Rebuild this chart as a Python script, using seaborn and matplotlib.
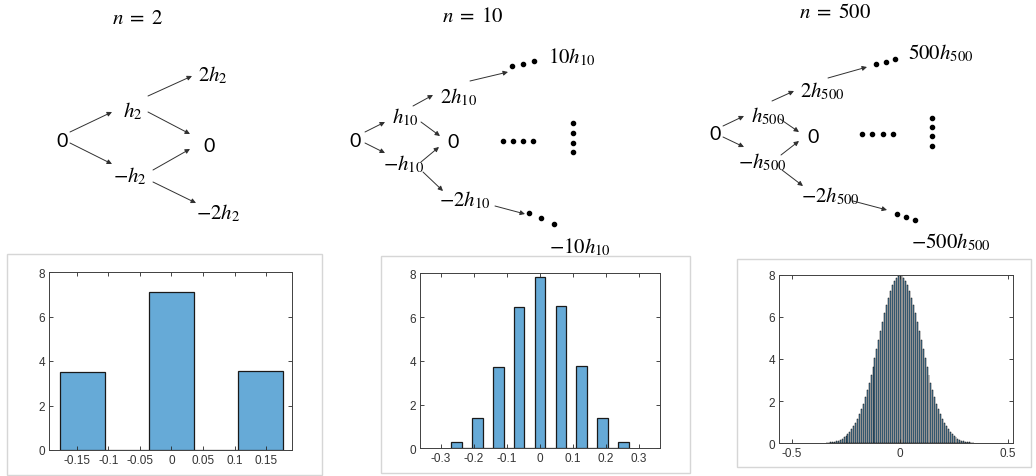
import numpy as np
import pandas as pd
import matplotlib
matplotlib.use("Agg")
import matplotlib.pyplot as plt
import seaborn as sns
from matplotlib.patches import Rectangle

# ---- data ----
# n = 2 : three outcomes -h, 0, h  (h = 0.1414)
n2_centers = [-0.1414, 0.0, 0.1414]
n2_heights = [3.52, 7.08, 3.54]
n2_width = 0.0707

# n = 10 : nine visible outcomes
n10_centers = [-0.253, -0.190, -0.126, -0.063, 0.0, 0.063, 0.126, 0.190, 0.253]
n10_heights = [0.30, 1.37, 3.73, 6.45, 7.82, 6.51, 3.77, 1.38, 0.30]
n10_width = 0.0316

# n = 500 : bars every 0.00894, k = -38 .. 38
n500_step = 0.00894
n500_k = np.arange(-38, 39)
n500_heights = [
    0.02, 0.03, 0.04, 0.06, 0.08, 0.10, 0.13, 0.17, 0.22, 0.28,
    0.35, 0.43, 0.53, 0.66, 0.80, 0.96, 1.15, 1.37, 1.61, 1.88,
    2.18, 2.51, 2.87, 3.25, 3.64, 4.06, 4.49, 4.92, 5.35, 5.77,
    6.18, 6.56, 6.91, 7.22, 7.49, 7.70, 7.85, 7.95, 7.98,
    7.95, 7.85, 7.70, 7.49, 7.22, 6.91, 6.56, 6.18, 5.77, 5.35,
    4.92, 4.49, 4.06, 3.64, 3.25, 2.87, 2.51, 2.18, 1.88, 1.61,
    1.37, 1.15, 0.96, 0.80, 0.66, 0.53, 0.43, 0.35, 0.28, 0.22,
    0.17, 0.13, 0.10, 0.08, 0.06, 0.04, 0.03, 0.02,
]
n500_centers = n500_k * n500_step
n500_width = n500_step / 2

titles = [r"$n\;=\;2$", r"$n\;=\;10$", r"$n\;=\;500$"]

# ---- style ----
plt.rcParams["font.family"] = ["Liberation Sans", "DejaVu Sans"]
plt.rcParams["mathtext.fontset"] = "stix"
plt.rcParams["axes.unicode_minus"] = False

W, H = 1036, 477
fig = plt.figure(figsize=(W / 100, H / 100), dpi=100)

# overlay in pixel coordinates for the tree diagrams
ov = fig.add_axes([0, 0, 1, 1])
ov.set_xlim(0, W)
ov.set_ylim(H, 0)
ov.axis("off")
ov.patch.set_alpha(0)

MATH = 15
ZERO_FONT = ["Lato", "DejaVu Sans"]


def label(x, y, s):
    if s == "0":
        ov.text(x, y, s, ha="center", va="center", fontsize=14, family=ZERO_FONT)
    else:
        ov.text(x, y, s, ha="center", va="center", fontsize=MATH)


def arrow(p, q):
    ov.annotate("", xy=q, xytext=p,
                arrowprops=dict(arrowstyle="-|>", lw=0.7, color="#303030",
                                mutation_scale=7, shrinkA=0, shrinkB=0))


def dots(pts):
    pts = np.array(pts)
    ov.scatter(pts[:, 0], pts[:, 1], s=9, color="black", zorder=3)


# panel 1 tree
ov.text(137, 19, titles[0], ha="center", va="center", fontsize=MATH)
for x, y, s in [(62, 142, "0"), (133, 111, "$h_2$"), (130, 176, "$-h_2$"),
                (213, 75, "$2h_2$"), (209, 147, "0"), (218, 213, "$-2h_2$")]:
    label(x, y, s)
for p, q in [((70, 133), (112, 113)), ((70, 144), (112, 165)),
             ((148, 97), (192, 77)), ((148, 113), (190, 135)),
             ((153, 171), (190, 150)), ((153, 183), (196, 204))]:
    arrow(p, q)

# panel 2 tree
ov.text(473, 17, titles[1], ha="center", va="center", fontsize=MATH)
for x, y, s in [(355, 142, "0"), (405, 117, "$h_{10}$"), (404, 164, "$-h_{10}$"),
                (459, 97, "$2h_{10}$"), (453, 143, "0"), (465, 200, "$-2h_{10}$"),
                (572, 57, "$10h_{10}$"), (580, 247, "$-10h_{10}$")]:
    label(x, y, s)
for p, q in [((365, 133), (385, 123)), ((365, 144), (385, 154)),
             ((413, 107), (433, 96)), ((421, 123), (440, 137)),
             ((421, 163), (439, 148)), ((423, 173), (443, 192)),
             ((470, 82), (508, 73)), ((495, 207), (525, 215))]:
    arrow(p, q)
dots([(503, 142), (513, 142), (523, 142), (533, 142)])
dots([(573, 124), (573, 134), (573, 144), (573, 153)])
dots([(512, 67), (523, 64.5), (534, 62)])
dots([(529, 214), (541, 219), (554, 225)])

# panel 3 tree
ov.text(835, 12, titles[2], ha="center", va="center", fontsize=MATH)
for x, y, s in [(715, 135, "0"), (768, 116, "$h_{500}$"), (762, 162, "$-h_{500}$"),
                (822, 91, "$2h_{500}$"), (813, 138, "0"), (830, 196, "$-2h_{500}$"),
                (941, 53, "$500h_{500}$"), (951, 242, "$-500h_{500}$")]:
    label(x, y, s)
for p, q in [((723, 127), (744, 117)), ((723, 138), (744, 148)),
             ((772, 102), (794, 92)), ((780, 120), (799, 133)),
             ((781, 156), (799, 142)), ((782, 171), (803, 187)),
             ((828, 79), (867, 68)), ((853, 202), (887, 211))]:
    arrow(p, q)
dots([(862, 135), (872, 135), (883, 135), (893, 135)])
dots([(932, 119), (932, 128), (932, 137), (932, 147)])
dots([(876, 65), (886, 62.5), (895, 60)])
dots([(897, 215), (906, 218), (915, 221)])

# screenshot frames around the histograms
for x0, y0, x1, y1 in [(7, 255, 322, 476), (381, 257, 690, 474), (737, 260, 1031, 468)]:
    ov.add_patch(Rectangle((x0, y0), x1 - x0, y1 - y0, fill=False,
                           edgecolor="#d6d6d6", lw=1))


# ---- histograms ----
def hist_panel(rect, centers, heights, width, xlim, xticks, xticklabels, lw, ec="#1a1a1a"):
    ax = fig.add_axes(rect)
    centers = np.asarray(centers, dtype=float)
    edges = np.sort(np.concatenate([centers - width / 2, centers + width / 2]))
    df = pd.DataFrame({"value": centers, "height": list(heights)})
    sns.histplot(data=df, x="value", weights="height", bins=list(edges), ax=ax,
                 color="#66AAD7", alpha=1, edgecolor=ec, linewidth=lw)
    ax.set_xlim(*xlim)
    ax.set_ylim(0, 8)
    ax.set_xticks(xticks)
    ax.set_xticklabels(xticklabels)
    ax.set_yticks([0, 2, 4, 6, 8])
    ax.set_xlabel("")
    ax.set_ylabel("")
    ax.tick_params(direction="in", top=True, right=True, length=3, width=0.6,
                   color="#262626", labelcolor="#333333", labelsize=8.5, pad=3)
    for sp in ax.spines.values():
        sp.set_color("#404040")
        sp.set_linewidth(0.7)
    return ax


hist_panel([49 / W, 1 - 451 / H, 243 / W, 178 / H], n2_centers, n2_heights, n2_width,
           (-0.194, 0.191), [-0.15, -0.1, -0.05, 0, 0.05, 0.1, 0.15],
           ["-0.15", "-0.1", "-0.05", "0", "0.05", "0.1", "0.15"], 0.9)
hist_panel([420 / W, 1 - 449.3 / H, 240 / W, 175 / H], n10_centers, n10_heights, n10_width,
           (-0.364, 0.364), [-0.3, -0.2, -0.1, 0, 0.1, 0.2, 0.3],
           ["-0.3", "-0.2", "-0.1", "0", "0.1", "0.2", "0.3"], 0.9)
hist_panel([779 / W, 1 - 444.3 / H, 233.7 / W, 168.6 / H], n500_centers, n500_heights, n500_width,
           (-0.561, 0.522), [-0.5, 0, 0.5], ["-0.5", "0", "0.5"], 0.35, ec="#000000")

fig.savefig("out.png", dpi=100)
